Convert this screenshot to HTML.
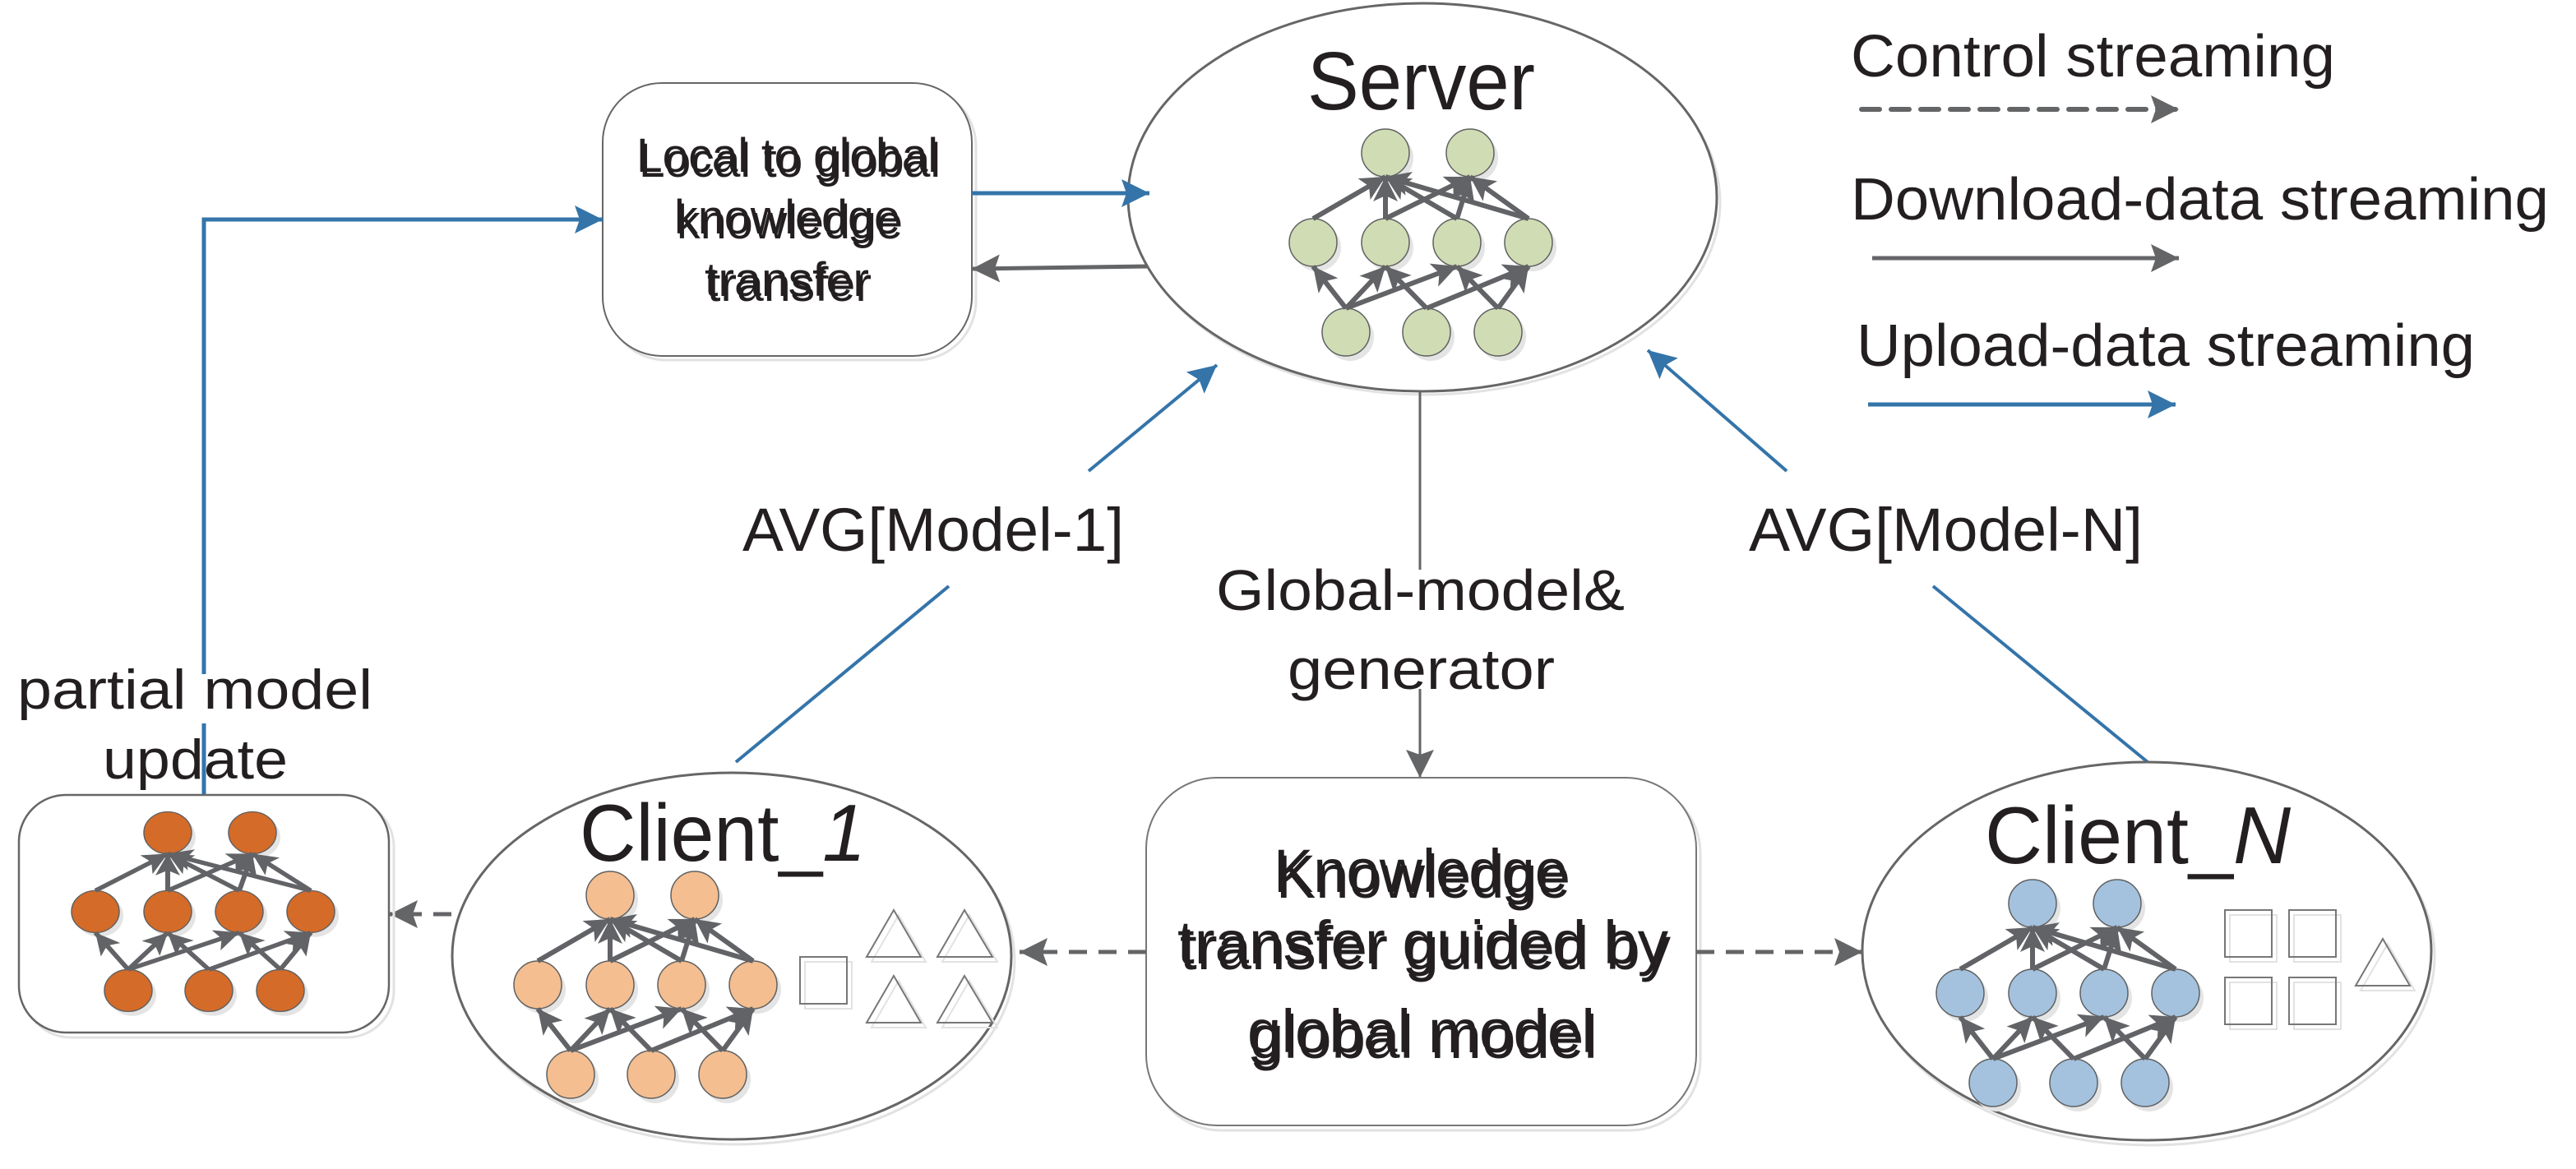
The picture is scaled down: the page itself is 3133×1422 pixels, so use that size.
<!DOCTYPE html>
<html><head><meta charset="utf-8"><style>
html,body{margin:0;padding:0;background:#fff;}
svg{display:block;}
text{font-family:"Liberation Sans",sans-serif;fill:#231f20;}
</style></head><body>
<svg width="3133" height="1422" viewBox="0 0 3133 1422" xmlns="http://www.w3.org/2000/svg">
<defs>
<marker id="na" markerUnits="userSpaceOnUse" markerWidth="34" markerHeight="34" refX="30" refY="15" orient="auto"><path d="M0,0 L30,15 L0,30 L7,15 z" fill="#626366"/></marker>
<marker id="ga" markerUnits="userSpaceOnUse" markerWidth="40" markerHeight="40" refX="34" refY="17" orient="auto"><path d="M0,0 L34,17 L0,34 L6,17 z" fill="#646567"/></marker>
<marker id="ba" markerUnits="userSpaceOnUse" markerWidth="40" markerHeight="40" refX="34" refY="17" orient="auto"><path d="M0,0 L34,17 L0,34 L6,17 z" fill="#3474a9"/></marker>
<g id="net">
 <g fill="#e4e4e4">
  <circle cx="5" cy="6" r="29"/><circle cx="108" cy="6" r="29"/>
  <circle cx="-83" cy="115" r="29"/><circle cx="5" cy="115" r="29"/><circle cx="92" cy="115" r="29"/><circle cx="179" cy="115" r="29"/>
  <circle cx="-43" cy="224" r="29"/><circle cx="55" cy="224" r="29"/><circle cx="142" cy="224" r="29"/>
 </g>
 <g stroke="#5f6062" stroke-width="1.5">
  <circle cx="0" cy="0" r="29"/><circle cx="103" cy="0" r="29"/>
  <circle cx="-88" cy="109" r="29"/><circle cx="0" cy="109" r="29"/><circle cx="87" cy="109" r="29"/><circle cx="174" cy="109" r="29"/>
  <circle cx="-48" cy="218" r="29"/><circle cx="50" cy="218" r="29"/><circle cx="137" cy="218" r="29"/>
 </g>
 <g stroke="#626366" stroke-width="6" marker-end="url(#na)" fill="none">
  <line x1="-88" y1="80" x2="0" y2="29"/>
  <line x1="0" y1="80" x2="0" y2="29"/>
  <line x1="0" y1="80" x2="103" y2="29"/>
  <line x1="87" y1="80" x2="0" y2="29"/>
  <line x1="87" y1="80" x2="103" y2="29"/>
  <line x1="174" y1="80" x2="0" y2="29"/>
  <line x1="174" y1="80" x2="103" y2="29"/>
  <line x1="-48" y1="189" x2="-88" y2="138"/>
  <line x1="-48" y1="189" x2="0" y2="138"/>
  <line x1="-48" y1="189" x2="87" y2="138"/>
  <line x1="50" y1="189" x2="0" y2="138"/>
  <line x1="50" y1="189" x2="174" y2="138"/>
  <line x1="137" y1="189" x2="87" y2="138"/>
  <line x1="137" y1="189" x2="174" y2="138"/>
 </g>
</g>
</defs>

<!-- Server -->
<ellipse cx="1734" cy="246" rx="358" ry="234" fill="none" stroke="#e2e2e2" stroke-width="3"/>
<ellipse cx="1730" cy="240" rx="358" ry="236" fill="#fff" stroke="#666" stroke-width="3"/>
<text x="1590" y="133" font-size="100" textLength="277" lengthAdjust="spacingAndGlyphs">Server</text>
<use href="#net" x="1685" y="186" fill="#d0ddb4"/>

<!-- Local to global box -->
<rect x="738" y="106" width="449" height="332" rx="72" fill="none" stroke="#e2e2e2" stroke-width="3"/>
<rect x="733" y="101" width="449" height="332" rx="72" fill="#fff" stroke="#666" stroke-width="2"/>
<g font-size="58">
<text x="777" y="215" fill="#e6e6e6" textLength="367" lengthAdjust="spacingAndGlyphs">Local to global</text>
<text x="823" y="290" fill="#e6e6e6" textLength="275" lengthAdjust="spacingAndGlyphs">knowledge</text>
<text x="860" y="366" fill="#e6e6e6" textLength="200" lengthAdjust="spacingAndGlyphs">transfer</text>
<text x="774" y="209" textLength="367" lengthAdjust="spacingAndGlyphs">Local to global</text>
<text x="820" y="284" textLength="275" lengthAdjust="spacingAndGlyphs">knowledge</text>
<text x="857" y="360" textLength="200" lengthAdjust="spacingAndGlyphs">transfer</text>
</g>

<!-- Blue feedback polyline -->
<polyline points="248,968 248,267 733,267" fill="none" stroke="#3474a9" stroke-width="5" marker-end="url(#ba)"/>
<line x1="1182" y1="235" x2="1398" y2="235" stroke="#3474a9" stroke-width="5" marker-end="url(#ba)"/>
<line x1="1395" y1="324" x2="1182" y2="327" stroke="#646567" stroke-width="5" marker-end="url(#ga)"/>

<!-- Upload lines -->
<line x1="895" y1="927" x2="1154" y2="713" stroke="#3474a9" stroke-width="4"/>
<line x1="1324" y1="573" x2="1480" y2="444" stroke="#3474a9" stroke-width="4" marker-end="url(#ba)"/>
<line x1="2612" y1="927" x2="2351" y2="713" stroke="#3474a9" stroke-width="4"/>
<line x1="2173" y1="573" x2="2004" y2="426" stroke="#3474a9" stroke-width="4" marker-end="url(#ba)"/>
<text x="903" y="670" font-size="74" textLength="464" lengthAdjust="spacingAndGlyphs">AVG[Model-1]</text>
<text x="2127" y="670" font-size="74" textLength="479" lengthAdjust="spacingAndGlyphs">AVG[Model-N]</text>

<!-- Global model down arrow -->
<line x1="1727" y1="476" x2="1727" y2="693" stroke="#646567" stroke-width="3"/>
<line x1="1727" y1="838" x2="1727" y2="946" stroke="#646567" stroke-width="3" marker-end="url(#ga)"/>
<text x="1479" y="742" font-size="70" textLength="497" lengthAdjust="spacingAndGlyphs">Global-model&amp;</text>
<text x="1566" y="838" font-size="70" textLength="325" lengthAdjust="spacingAndGlyphs">generator</text>

<!-- Knowledge box -->
<rect x="1399" y="952" width="669" height="423" rx="86" fill="none" stroke="#e2e2e2" stroke-width="3"/>
<rect x="1394" y="946" width="669" height="423" rx="86" fill="#fff" stroke="#777" stroke-width="2"/>
<g font-size="74">
<text x="1552" y="1092" fill="#e6e6e6" textLength="358" lengthAdjust="spacingAndGlyphs">Knowledge</text>
<text x="1435" y="1179" fill="#e6e6e6" textLength="597" lengthAdjust="spacingAndGlyphs">transfer guided by</text>
<text x="1520" y="1287" fill="#e6e6e6" textLength="423" lengthAdjust="spacingAndGlyphs">global model</text>
<text x="1549" y="1085" textLength="358" lengthAdjust="spacingAndGlyphs">Knowledge</text>
<text x="1432" y="1172" textLength="597" lengthAdjust="spacingAndGlyphs">transfer guided by</text>
<text x="1517" y="1280" textLength="423" lengthAdjust="spacingAndGlyphs">global model</text>
</g>

<!-- dashed control arrows -->
<line x1="1394" y1="1158" x2="1240" y2="1158" stroke="#646567" stroke-width="5" stroke-dasharray="22,14" marker-end="url(#ga)"/>
<line x1="2063" y1="1158" x2="2265" y2="1158" stroke="#646567" stroke-width="5" stroke-dasharray="22,14" marker-end="url(#ga)"/>
<line x1="549" y1="1112" x2="474" y2="1112" stroke="#646567" stroke-width="5" stroke-dasharray="22,14" marker-end="url(#ga)"/>

<!-- Client 1 -->
<ellipse cx="894" cy="1169" rx="340" ry="223" fill="none" stroke="#e2e2e2" stroke-width="3"/>
<ellipse cx="890" cy="1163" rx="340" ry="223" fill="#fff" stroke="#666" stroke-width="3"/>
<text x="705" y="1047" font-size="98" textLength="348" lengthAdjust="spacingAndGlyphs">Client_<tspan font-style="italic">1</tspan></text>
<use href="#net" x="742" y="1089" fill="#f4be90"/>
<g fill="none" stroke-width="2">
 <g stroke="#e2e2e2" transform="translate(6,6)">
  <rect x="973" y="1164" width="57" height="57"/>
  <path d="M1087,1107 L1120,1164 L1054,1164 Z M1173,1107 L1207,1164 L1140,1164 Z M1087,1187 L1120,1244 L1054,1244 Z M1173,1187 L1207,1244 L1140,1244 Z"/>
 </g>
 <g stroke="#777">
  <rect x="973" y="1164" width="57" height="57"/>
  <path d="M1087,1107 L1120,1164 L1054,1164 Z M1173,1107 L1207,1164 L1140,1164 Z M1087,1187 L1120,1244 L1054,1244 Z M1173,1187 L1207,1244 L1140,1244 Z"/>
 </g>
</g>

<!-- Client N -->
<ellipse cx="2615" cy="1163" rx="346" ry="230" fill="none" stroke="#e2e2e2" stroke-width="3"/>
<ellipse cx="2611" cy="1157" rx="346" ry="230" fill="#fff" stroke="#666" stroke-width="3"/>
<text x="2414" y="1050" font-size="98" textLength="372" lengthAdjust="spacingAndGlyphs">Client_<tspan font-style="italic">N</tspan></text>
<use href="#net" x="2472" y="1099" fill="#a4c2de"/>
<g fill="none" stroke-width="2">
 <g stroke="#e2e2e2" transform="translate(6,6)">
  <rect x="2706" y="1107" width="57" height="57"/><rect x="2784" y="1107" width="57" height="57"/>
  <rect x="2706" y="1189" width="57" height="57"/><rect x="2784" y="1189" width="57" height="57"/>
  <path d="M2898,1142 L2931,1199 L2865,1199 Z"/>
 </g>
 <g stroke="#777">
  <rect x="2706" y="1107" width="57" height="57"/><rect x="2784" y="1107" width="57" height="57"/>
  <rect x="2706" y="1189" width="57" height="57"/><rect x="2784" y="1189" width="57" height="57"/>
  <path d="M2898,1142 L2931,1199 L2865,1199 Z"/>
 </g>
</g>

<!-- Partial model box -->
<rect x="29" y="973" width="450" height="289" rx="57" fill="none" stroke="#e2e2e2" stroke-width="3"/>
<rect x="23" y="967" width="450" height="289" rx="57" fill="#fff" stroke="#666" stroke-width="2.5"/>
<g transform="translate(204,1013) scale(1,0.88)"><use href="#net" fill="#d46b29"/></g>
<rect x="232" y="820" width="30" height="60" fill="#fff"/>
<text x="21" y="862" font-size="68" textLength="432" lengthAdjust="spacingAndGlyphs">partial model</text>
<text x="125" y="947" font-size="68" textLength="225" lengthAdjust="spacingAndGlyphs">update</text>

<!-- Legend -->
<text x="2251" y="93" font-size="72" textLength="589" lengthAdjust="spacingAndGlyphs">Control streaming</text>
<line x1="2264" y1="133" x2="2650" y2="133" stroke="#646567" stroke-width="6" stroke-dasharray="22,14" stroke-linecap="round" marker-end="url(#ga)"/>
<text x="2251" y="267" font-size="72" textLength="849" lengthAdjust="spacingAndGlyphs">Download-data streaming</text>
<line x1="2277" y1="314" x2="2650" y2="314" stroke="#646567" stroke-width="5" marker-end="url(#ga)"/>
<text x="2258" y="445" font-size="72" textLength="752" lengthAdjust="spacingAndGlyphs">Upload-data streaming</text>
<line x1="2272" y1="492" x2="2646" y2="492" stroke="#3474a9" stroke-width="5" marker-end="url(#ba)"/>
</svg>
</body></html>
